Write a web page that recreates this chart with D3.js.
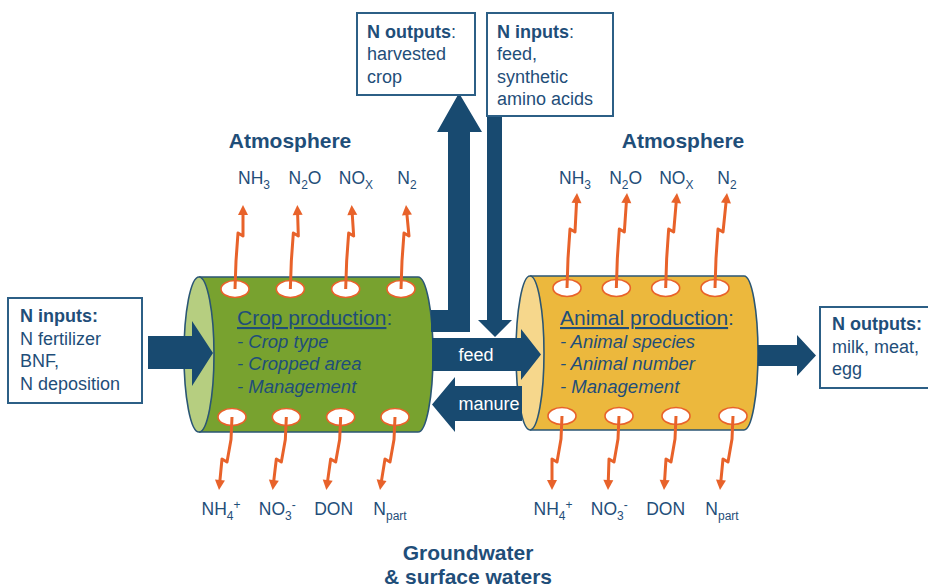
<!DOCTYPE html>
<html><head><meta charset="utf-8">
<script src="https://cdn.jsdelivr.net/npm/d3@7"></script>
<style>
html,body{margin:0;padding:0;background:#fff;}
svg{display:block;font-family:"Liberation Sans",Arial,Helvetica,sans-serif;}
</style>
</head><body>
<svg id="chart" width="928" height="588"></svg>
<script>
// ---------------- DATA ----------------
const atmosphereGases = [
  [["NH",""],["3","sub"]],
  [["N",""],["2","sub"],["O",""]],
  [["NO",""],["X","sub"]],
  [["N",""],["2","sub"]]
];
const waterSpecies = [
  [["NH",""],["4","sub"],["+","sup"]],
  [["NO",""],["3","sub"],["-","sup"]],
  [["DON",""]],
  [["N",""],["part","sub"]]
];
const systemTitles = ["Crop production", "Animal production"];
const cropFactors = ["- Crop type", "- Cropped area", "- Management"];
const animalFactors = ["- Animal species", "- Animal number", "- Management"];
const cropInputLines = ["N fertilizer", "BNF,", "N deposition"];
const cropOutputLines = ["harvested", "crop"];
const animalInputLines = ["feed,", "synthetic", "amino acids"];
const animalOutputLines = ["milk, meat,", "egg"];
const internalFlows = ["feed", "manure"];
const sinkLabels = ["Atmosphere", "Groundwater", "& surface waters"];

// ---------------- STYLE / LAYOUT ----------------
const NAVY = "#184a70", TEXT = "#1f4e79", ORANGE = "#e8622a", OUTLINE = "#2a5674", BOX = "#2c5f86";
const layout = {
  crop:   {fx:199, ex:418, top:277, bot:432, rx:15, body:"#78a22f", face:"#b6ce80", tx:237,
           upHole:[235,401], upTip:[243,406], upLab:[254,407], holeUpY:289, tipUpY:205, zigUpY:233, atmX:290,
           dnHole:[232,395], dnTip:[219,380], dnLab:[221,390], holeDnY:417},
  animal: {fx:530, ex:744, top:276, bot:430, rx:14, body:"#ecb83d", face:"#f6d78c", tx:560,
           upHole:[567,715], upTip:[577,727], upLab:[575,727], holeUpY:288, tipUpY:193, zigUpY:229, atmX:683,
           dnHole:[562,733], dnTip:[552,720], dnLab:[553,722], holeDnY:416}
};

const svg = d3.select("#chart");
const line = d3.line();

// ---------- cylinders ----------
function cylinder(L){
  const cy = (L.top+L.bot)/2, ry = (L.bot-L.top)/2;
  const g = svg.append("g");
  g.append("path")
    .attr("d", `M${L.fx},${L.top} L${L.ex},${L.top} A${L.rx},${ry} 0 0 1 ${L.ex},${L.bot} L${L.fx},${L.bot} Z`)
    .attr("fill", L.body).attr("stroke", "none");
  g.append("path")
    .attr("d", `M${L.fx},${L.top} L${L.ex},${L.top} A${L.rx},${ry} 0 0 1 ${L.ex},${L.bot} L${L.fx},${L.bot}`)
    .attr("fill", "none").attr("stroke", OUTLINE).attr("stroke-width", 1.6);
  g.append("ellipse").attr("cx", L.fx).attr("cy", cy).attr("rx", L.rx).attr("ry", ry)
    .attr("fill", L.face).attr("stroke", OUTLINE).attr("stroke-width", 1.6);
}
cylinder(layout.crop);
cylinder(layout.animal);

// ---------- navy flow arrows ----------
function poly(pts){ svg.append("path").attr("d", line(pts)+"Z").attr("fill", NAVY); }
// N inputs -> crop
poly([[148,336],[192,336],[192,321],[213,353],[192,386],[192,369],[148,369]]);
// crop -> harvested crop (L shape)
poly([[431,310],[448,310],[448,132],[437,132],[459,93],[482,132],[470,132],[470,332],[431,332]]);
// feed inputs -> animal
poly([[487,116],[502,116],[502,320],[512,320],[495,337],[478,320],[487,320]]);
// feed crop -> animal
poly([[432,338],[521,338],[521,329],[541,354.5],[521,380],[521,371],[432,371]]);
// manure animal -> crop
poly([[522,386],[455,386],[455,377],[432,404.5],[455,432],[455,421],[522,421]]);
// animal -> outputs
poly([[758,345],[797,345],[797,335],[816,355.5],[797,376],[797,366],[758,366]]);

svg.selectAll("text.flow").data(internalFlows).join("text")
  .attr("x", (d,i)=> i===0 ? 476 : 489)
  .attr("y", (d,i)=> i===0 ? 361 : 410)
  .attr("text-anchor","middle").attr("fill","#fff").attr("font-size",18)
  .text(d=>d);

// ---------- holes + orange arrows ----------
function orangeArrow(pts, tip){
  const last = pts[pts.length-1];
  const dx = tip[0]-last[0], dy = tip[1]-last[1], len = Math.hypot(dx,dy);
  const ux = dx/len, uy = dy/len, hl = 10, hw = 5;
  const base = [tip[0]-ux*hl, tip[1]-uy*hl];
  svg.append("path").attr("d", line(pts.concat([[base[0]+ux, base[1]+uy]])))
    .attr("fill","none").attr("stroke",ORANGE).attr("stroke-width",3)
    .attr("stroke-linejoin","round");
  svg.append("path").attr("d", line([tip,[base[0]-uy*hw, base[1]+ux*hw],[base[0]+uy*hw, base[1]-ux*hw]])+"Z")
    .attr("fill",ORANGE);
}
function speciesLabel(parts, x, y){
  const t = svg.append("text").attr("x",x).attr("y",y).attr("text-anchor","middle")
    .attr("fill",TEXT).attr("font-size",17.5);
  let cur = 0;
  parts.forEach(([s,kind])=>{
    const target = kind==="sub" ? 4.5 : kind==="sup" ? -6 : 0;
    const ts = t.append("tspan").attr("dy", target-cur).text(s);
    if(kind) ts.attr("font-size", 12);
    cur = target;
  });
}

["crop","animal"].forEach((key, si)=>{
  const L = layout[key];
  const idx = d3.range(4);
  const upHole = d3.scalePoint().domain(idx).range(L.upHole);
  const upTip = d3.scalePoint().domain(idx).range(L.upTip);
  const upLab = d3.scalePoint().domain(idx).range(L.upLab);
  const dnHole = d3.scalePoint().domain(idx).range(L.dnHole);
  const dnTip = d3.scalePoint().domain(idx).range(L.dnTip);
  const dnLab = d3.scalePoint().domain(idx).range(L.dnLab);

  // holes
  idx.forEach(i=>{
    svg.append("ellipse").attr("cx",upHole(i)).attr("cy",L.holeUpY).attr("rx",14).attr("ry",8.5)
      .attr("fill","#fff").attr("stroke",ORANGE).attr("stroke-width",1.6);
    svg.append("ellipse").attr("cx",dnHole(i)).attr("cy",L.holeDnY).attr("rx",14).attr("ry",8.5)
      .attr("fill","#fff").attr("stroke",ORANGE).attr("stroke-width",1.6);
  });
  // up arrows
  atmosphereGases.forEach((g,i)=>{
    const hx = upHole(i), hy = L.holeUpY, zy = L.zigUpY, zx = hx+3;
    orangeArrow([[hx,hy],[hx+1,(hy+zy)/2],[zx,zy],[zx+5,zy+3]], [upTip(i), L.tipUpY]);
    speciesLabel(g, upLab(i), 184);
  });
  // down arrows
  waterSpecies.forEach((w,i)=>{
    const hx = dnHole(i), hy = L.holeDnY, zy = 462, zx = hx-5;
    orangeArrow([[hx,hy],[hx-1,(hy+zy)/2],[zx,zy],[zx-5,zy-3]], [dnTip(i), 490]);
    speciesLabel(w, dnLab(i), 515);
  });
  // atmosphere title
  svg.append("text").attr("x",L.atmX).attr("y",148).attr("text-anchor","middle")
    .attr("fill",TEXT).attr("font-size",21).attr("font-weight","bold").text(sinkLabels[0]);

  // system text
  const t = svg.append("text").attr("x",L.tx).attr("y",325).attr("fill",TEXT).attr("font-size",21);
  t.append("tspan").attr("text-decoration","underline").text(systemTitles[si]);
  t.append("tspan").text(":");
  const factors = si===0 ? cropFactors : animalFactors;
  svg.selectAll("text.f"+key).data(factors).join("text")
    .attr("x",L.tx).attr("y",(d,i)=>347.5+i*22.7)
    .attr("fill",TEXT).attr("font-size",18.5).attr("font-style","italic").text(d=>d);
});

// ---------- boxes ----------
function box(x,y,w,h,head,colonBold,lines,tx,by){
  svg.append("rect").attr("x",x).attr("y",y).attr("width",w).attr("height",h)
    .attr("fill","#fff").attr("stroke",BOX).attr("stroke-width",2);
  const t = svg.append("text").attr("x",tx).attr("y",by).attr("fill",TEXT).attr("font-size",18);
  t.append("tspan").attr("font-weight","bold").text(head);
  t.append("tspan").attr("font-weight",colonBold?"bold":"normal").text(":");
  lines.forEach((l,i)=>{
    svg.append("text").attr("x",tx).attr("y",by+(i+1)*22.6).attr("fill",TEXT).attr("font-size",18).text(l);
  });
}
box(8,298,134,105,"N inputs",true,cropInputLines,20,322);
box(357,13,118,82,"N outputs",false,cropOutputLines,367,37.5);
box(487,13,126,103,"N inputs",false,animalInputLines,497,37.5);
box(820,307,130,81,"N outputs",true,animalOutputLines,832,330);

// ---------- groundwater ----------
svg.selectAll("text.gw").data(sinkLabels.slice(1)).join("text")
  .attr("x",468).attr("y",(d,i)=>560+i*24).attr("text-anchor","middle")
  .attr("fill",TEXT).attr("font-size",21).attr("font-weight","bold").text(d=>d);
</script>
</body></html>
